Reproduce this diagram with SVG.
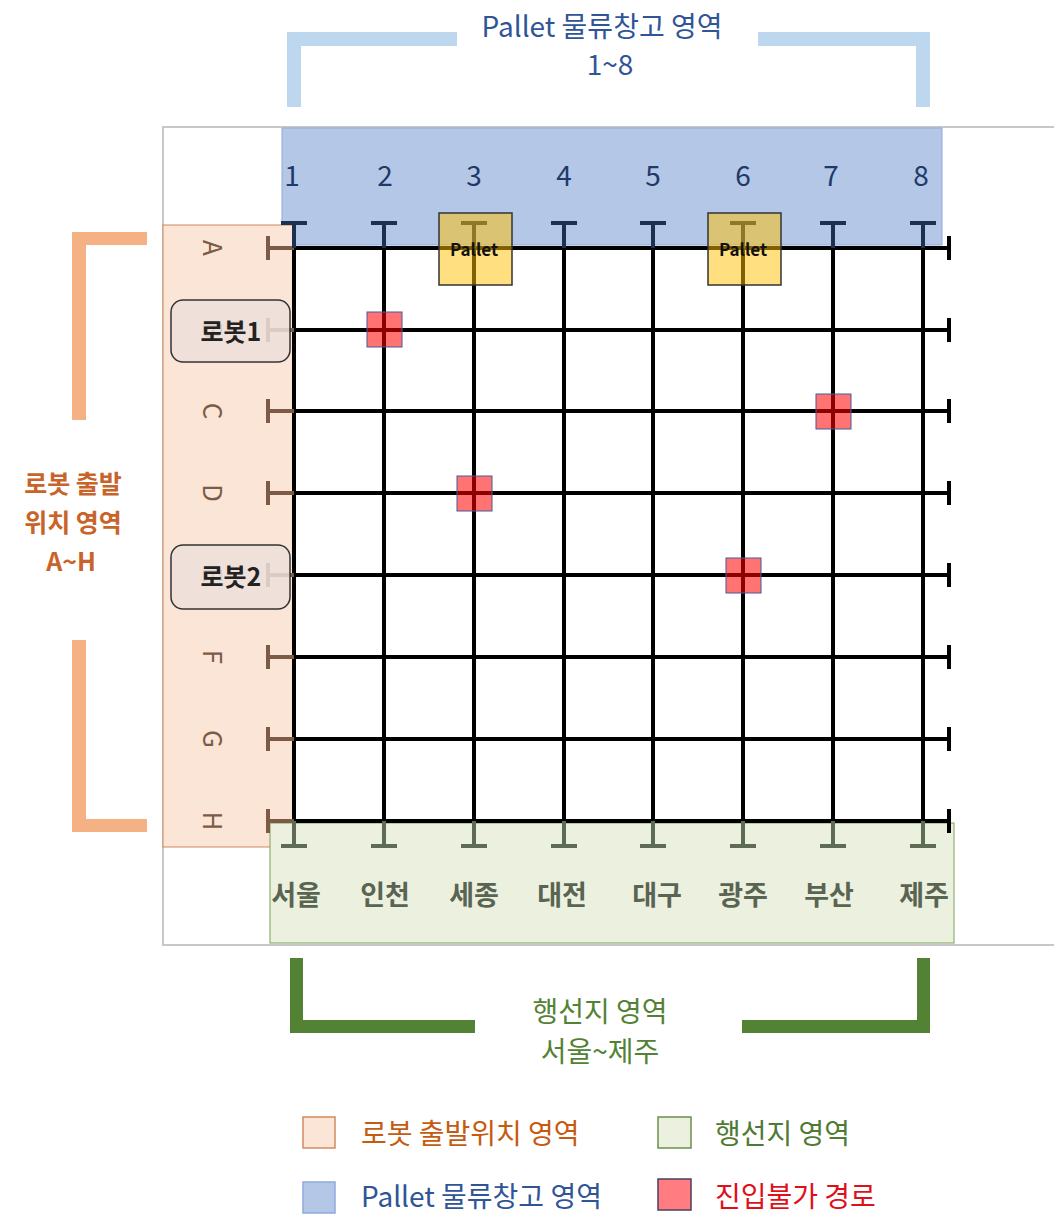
<svg xmlns="http://www.w3.org/2000/svg" width="1054" height="1215" viewBox="0 0 1054 1215">
<style>
text{font-family:"Noto Sans CJK KR","Noto Sans",sans-serif;}
.grid{stroke:#000;stroke-width:4;fill:none;}
.tl{stroke:#7b5b45;stroke-width:4;fill:none;}
.tt{stroke:#1c3050;stroke-width:4;fill:none;}
.tb{stroke:#5e6b55;stroke-width:4;fill:none;}
.num{font-size:28px;fill:#1f3a68;text-anchor:middle;}
.city{font-size:27px;font-weight:bold;fill:#5a6452;text-anchor:middle;}
.row{font-size:26px;fill:#7b5b45;text-anchor:middle;}
.pallet rect{fill:#ffc000;fill-opacity:0.5;stroke:#333;stroke-width:1.5;}
.pallet text{font-size:17px;font-weight:bold;fill:#111;text-anchor:middle;}
.block rect{fill:#ff0000;fill-opacity:0.55;stroke:#4a5a9a;stroke-width:1;}
.robot rect{fill:#ece0d9;fill-opacity:0.85;stroke:#333;stroke-width:1.5;}
.robot text{font-size:25px;font-weight:bold;fill:#222;text-anchor:middle;}
.leg{font-size:28px;}
</style>

<!-- outer frame -->
<rect x="163" y="127" width="900" height="818" fill="#fff" stroke="#c8c8c8" stroke-width="2"/>

<!-- regions -->
<g id="regions">
  <rect id="pallet-area" x="282" y="128" width="660" height="117" fill="#b4c7e7" stroke="#8faadc" stroke-width="1"/>
  <rect id="robot-area" x="163" y="225" width="130" height="622" fill="#fbe5d6" stroke="#d08a5c" stroke-width="1"/>
  <rect id="dest-area" x="270" y="823" width="684" height="120" fill="#ebf1de" stroke="#7f9f5f" stroke-width="1"/>
</g>

<!-- brackets -->
<g id="brackets">
  <rect x="287" y="32" width="14" height="75" fill="#bdd7ee"/>
  <rect x="287" y="32" width="170" height="14" fill="#bdd7ee"/>
  <rect x="758" y="32" width="172" height="14" fill="#bdd7ee"/>
  <rect x="916" y="32" width="14" height="75" fill="#bdd7ee"/>

  <rect x="72" y="232" width="75" height="13" fill="#f4b183"/>
  <rect x="72" y="232" width="14" height="188" fill="#f4b183"/>
  <rect x="72" y="640" width="14" height="192" fill="#f4b183"/>
  <rect x="72" y="819" width="75" height="13" fill="#f4b183"/>

  <rect x="290" y="958" width="13" height="75" fill="#548235"/>
  <rect x="290" y="1020" width="185" height="13" fill="#548235"/>
  <rect x="742" y="1020" width="188" height="13" fill="#548235"/>
  <rect x="917" y="958" width="13" height="75" fill="#548235"/>
</g>

<!-- region titles -->
<g id="titles">
  <text x="602" y="37" font-size="28" fill="#2f5597" text-anchor="middle">Pallet 물류창고 영역</text>
  <text x="610" y="75" font-size="28" fill="#2f5597" text-anchor="middle">1~8</text>
  <text x="73" y="493" font-size="25" font-weight="bold" fill="#c8642a" text-anchor="middle">로봇 출발</text>
  <text x="73" y="532" font-size="25" font-weight="bold" fill="#c8642a" text-anchor="middle">위치 영역</text>
  <text x="71" y="571" font-size="25" font-weight="bold" fill="#c8642a" text-anchor="middle">A~H</text>
  <text x="600" y="1022" font-size="28" fill="#548235" text-anchor="middle">행선지 영역</text>
  <text x="600" y="1062" font-size="28" fill="#548235" text-anchor="middle">서울~제주</text>
</g>

<!-- grid connectors -->
<g id="connectors">
  <g class="grid">
    <path d="M294 248H949M294 330H949M294 411H949M294 493H949M294 575H949M294 657H949M294 739H949M294 821H949"/>
    <path d="M949 236V260M949 318V342M949 399V423M949 481V505M949 563V587M949 645V669M949 727V751M949 809V833"/>
    <path d="M294 248V821M384 248V821M474 248V821M564 248V821M653 248V821M743 248V821M833 248V821M923 248V821"/>
  </g>
  <g class="tl">
    <path d="M268 248H294M268 330H294M268 411H294M268 493H294M268 575H294M268 657H294M268 739H294M268 821H294"/>
    <path d="M268 236V260M268 318V342M268 399V423M268 481V505M268 563V587M268 645V669M268 727V751M268 809V833"/>
  </g>
  <g class="tt">
    <path d="M294 223V248M384 223V248M474 223V248M564 223V248M653 223V248M743 223V248M833 223V248M923 223V248"/>
    <path d="M281 223H307M371 223H397M461 223H487M551 223H577M640 223H666M730 223H756M820 223H846M910 223H936"/>
  </g>
  <g class="tb">
    <path d="M294 821V846M384 821V846M474 821V846M564 821V846M653 821V846M743 821V846M833 821V846M923 821V846"/>
    <path d="M281 846H307M371 846H397M461 846H487M551 846H577M640 846H666M730 846H756M820 846H846M910 846H936"/>
  </g>
</g>

<!-- axis labels -->
<g id="col-labels">
  <text class="num" x="292" y="186">1</text>
  <text class="num" x="385" y="186">2</text>
  <text class="num" x="474" y="186">3</text>
  <text class="num" x="564" y="186">4</text>
  <text class="num" x="653" y="186">5</text>
  <text class="num" x="743" y="186">6</text>
  <text class="num" x="831" y="186">7</text>
  <text class="num" x="921" y="186">8</text>
</g>
<g id="row-labels">
  <text class="row" transform="translate(212 248) rotate(90)" y="9">A</text>
  <text class="row" transform="translate(212 330) rotate(90)" y="9">B</text>
  <text class="row" transform="translate(212 411) rotate(90)" y="9">C</text>
  <text class="row" transform="translate(212 493) rotate(90)" y="9">D</text>
  <text class="row" transform="translate(212 575) rotate(90)" y="9">E</text>
  <text class="row" transform="translate(212 657) rotate(90)" y="9">F</text>
  <text class="row" transform="translate(212 739) rotate(90)" y="9">G</text>
  <text class="row" transform="translate(212 821) rotate(90)" y="9">H</text>
</g>
<g id="city-labels">
  <text class="city" x="296" y="905">서울</text>
  <text class="city" x="385" y="905">인천</text>
  <text class="city" x="474" y="905">세종</text>
  <text class="city" x="562" y="905">대전</text>
  <text class="city" x="657" y="905">대구</text>
  <text class="city" x="743" y="905">광주</text>
  <text class="city" x="829" y="905">부산</text>
  <text class="city" x="924" y="905">제주</text>
</g>

<!-- nodes -->
<g id="pallet-3" class="pallet">
  <rect x="439" y="213" width="73" height="72"/>
  <text x="474" y="256">Pallet</text>
</g>
<g id="pallet-6" class="pallet">
  <rect x="708" y="213" width="73" height="72"/>
  <text x="743" y="256">Pallet</text>
</g>
<g id="block-B2" class="block"><rect x="367" y="312" width="35" height="35"/></g>
<g id="block-C7" class="block"><rect x="816" y="394" width="35" height="35"/></g>
<g id="block-D3" class="block"><rect x="457" y="476" width="35" height="35"/></g>
<g id="block-E6" class="block"><rect x="726" y="558" width="35" height="35"/></g>
<g id="robot-1" class="robot">
  <rect x="171" y="300" width="119" height="62" rx="12"/>
  <text x="231" y="341">로봇1</text>
</g>
<g id="robot-2" class="robot">
  <rect x="171" y="545" width="119" height="64" rx="12"/>
  <text x="231" y="586">로봇2</text>
</g>

<!-- legend -->
<g id="legend">
  <rect x="303" y="1117" width="32" height="31" fill="#fbe5d6" stroke="#d08a5c" stroke-width="1.5"/>
  <text class="leg" x="361" y="1144" fill="#c55a11">로봇 출발위치 영역</text>
  <rect x="658" y="1117" width="33" height="31" fill="#ebf1de" stroke="#6b8e4e" stroke-width="1.5"/>
  <text class="leg" x="715" y="1144" fill="#4f7a35">행선지 영역</text>
  <rect x="303" y="1182" width="32" height="31" fill="#b4c7e7" stroke="#8faadc" stroke-width="1.5"/>
  <text class="leg" x="361" y="1207" fill="#2f5597">Pallet 물류창고 영역</text>
  <rect x="658" y="1179" width="33" height="31" fill="#ff7c80" stroke="#4a3f5e" stroke-width="1.5"/>
  <text class="leg" x="715" y="1207" fill="#e0101a">진입불가 경로</text>
</g>
</svg>
